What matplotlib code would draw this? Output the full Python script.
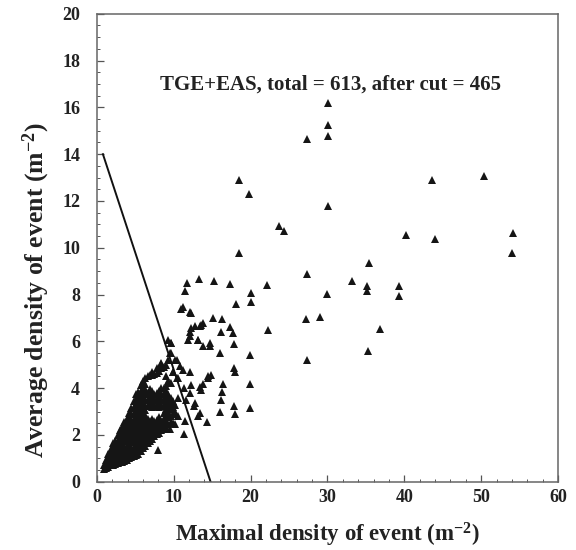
import matplotlib
matplotlib.use("Agg")
import matplotlib.pyplot as plt
from matplotlib.ticker import MultipleLocator

plt.rcParams['font.family'] = ['Liberation Serif', 'DejaVu Serif']
plt.rcParams['font.weight'] = 'bold'
plt.rcParams['mathtext.fontset'] = 'custom'
plt.rcParams['mathtext.rm'] = 'Liberation Serif:bold'
plt.rcParams['mathtext.it'] = 'Liberation Serif:bold'
plt.rcParams['mathtext.bf'] = 'Liberation Serif:bold'
plt.rcParams['mathtext.default'] = 'rm'

# Dense core of small events, column by column:
# maximal density of the column -> average densities of its events
core_x = [0.9, 1.2, 1.5, 1.8, 2.1, 2.4, 2.7, 3.0, 3.3, 3.6, 3.9, 4.2, 4.5, 4.8,
          5.1, 5.4, 5.7, 6.0, 6.3, 6.6, 6.9, 7.2, 7.5, 7.8, 8.1, 8.4, 8.7, 9.0,
          9.3, 9.6, 9.9, 10.2, 10.5]
core_y = [
    [0.55, 0.7],
    [0.6, 0.8, 0.95],
    [0.65, 0.85, 1.05, 1.2],
    [0.7, 0.9, 1.1, 1.3, 1.4],
    [0.7, 0.9, 1.1, 1.3, 1.5, 1.65],
    [0.75, 0.95, 1.15, 1.35, 1.55, 1.75],
    [0.8, 1.0, 1.2, 1.4, 1.6, 1.8, 2.0],
    [0.85, 1.05, 1.25, 1.45, 1.65, 1.85, 2.05, 2.2],
    [0.85, 1.1, 1.3, 1.5, 1.7, 1.9, 2.1, 2.35],
    [0.9, 1.1, 1.3, 1.5, 1.75, 1.95, 2.15, 2.4, 2.55],
    [0.95, 1.15, 1.35, 1.55, 1.8, 2.0, 2.2, 2.45, 2.7],
    [1.0, 1.2, 1.4, 1.6, 1.85, 2.05, 2.3, 2.55, 2.8, 2.95],
    [1.05, 1.25, 1.45, 1.7, 1.9, 2.15, 2.4, 2.65, 2.9, 3.15],
    [1.1, 1.3, 1.5, 1.75, 2.0, 2.2, 2.45, 2.7, 2.95, 3.2, 3.45],
    [1.15, 1.35, 1.6, 1.8, 2.05, 2.3, 2.5, 2.75, 3.0, 3.3, 3.55, 3.75],
    [1.2, 1.45, 1.65, 1.9, 2.1, 2.35, 2.6, 2.85, 3.1, 3.35, 3.6, 3.85],
    [1.3, 1.5, 1.75, 1.95, 2.2, 2.45, 2.7, 2.95, 3.2, 3.45, 3.7, 3.9, 4.15],
    [1.45, 1.65, 1.85, 2.05, 2.3, 2.55, 2.8, 3.05, 3.3, 3.55, 3.8, 4.0, 4.3],
    [1.55, 1.75, 1.95, 2.2, 2.4, 2.65, 2.85, 3.05, 3.25, 3.5, 3.75, 3.95, 4.2, 4.45],
    [1.65, 1.85, 2.05, 2.3, 2.5, 2.7, 3.3, 3.55, 3.8, 4.5],
    [1.75, 1.95, 2.15, 2.4, 2.6, 3.25, 3.5, 3.75, 3.95, 4.55],
    [1.85, 2.05, 2.25, 2.5, 2.7, 3.2, 3.45, 3.7, 3.9, 4.55, 4.7],
    [1.95, 2.15, 2.35, 2.6, 3.25, 3.5, 3.75, 4.6],
    [2.05, 2.25, 2.45, 2.65, 3.3, 3.55, 3.8, 4.65, 4.85],
    [2.1, 2.3, 2.55, 2.75, 3.2, 3.45, 3.7, 3.9, 4.75],
    [2.2, 2.4, 2.6, 3.25, 3.5, 3.75, 4.0, 4.85, 5.05],
    [2.25, 2.5, 2.7, 2.95, 3.3, 3.55, 3.8, 4.0, 4.9],
    [2.35, 2.6, 2.85, 3.1, 3.4, 3.65, 3.9, 4.1, 4.5, 5.0],
    [2.45, 2.75, 3.0, 3.25, 3.5, 3.75, 4.3, 5.2],
    [2.55, 2.8, 3.1, 3.35, 3.6, 4.22, 5.5, 5.93],
    [2.5, 2.9, 3.2, 3.45, 4.71],
    [2.45, 3.0, 3.3, 5.2],
    [2.8, 3.6, 4.43],
]

# Medium events around the cut line
mid_x = [13.3, 15.2, 11.7, 11.45, 17.3, 22.2, 20.0, 20.0, 18.1, 11.0,
         12.1, 15.1, 16.3, 13.6, 12.8, 17.3, 17.7, 16.2, 22.3, 12.1,
         11.9, 13.2, 13.8, 14.7, 17.8, 16.0, 19.9, 9.3, 17.8, 18.0,
         14.5, 13.8, 13.4, 16.4, 16.3, 16.1, 16.0, 19.9, 19.9, 17.8,
         18.0, 12.1, 12.8, 13.2, 14.3, 11.4, 9.5, 9.7, 9.5, 8.4,
         10.4, 10.8, 9.9, 11.2, 12.1, 10.4, 9.5, 11.4, 12.3, 13.6,
         14.5, 14.9, 11.66, 12.7, 13.4, 12.3, 13.4, 13.8, 12.1, 13.2,
         14.7, 11.2, 12.3, 8.0, 11.45]
mid_y = [8.65, 8.6, 8.5, 8.15, 8.45, 8.4, 8.05, 7.7, 7.6, 7.4,
         7.25, 7.0, 6.95, 6.7, 6.65, 6.6, 6.35, 6.4, 6.5, 6.4,
         6.05, 6.05, 5.8, 5.8, 5.9, 5.5, 5.4, 6.05, 4.85, 4.7,
         4.5, 4.2, 4.05, 4.2, 3.85, 3.5, 3.0, 4.2, 3.15, 3.25,
         2.9, 3.8, 3.35, 2.8, 2.55, 2.05, 2.25, 5.93, 5.5, 5.07,
         5.2, 4.93, 4.71, 4.79, 4.71, 4.43, 4.22, 4.0, 4.15, 3.93,
         4.43, 4.57, 3.5, 3.22, 2.93, 6.57, 6.64, 6.78, 6.21, 6.07,
         5.93, 7.49, 7.21, 1.35, 2.6]

# Large events
big_x = [30.1, 30.1, 30.1, 27.3, 18.56, 19.86, 30.05, 23.7, 24.4, 18.47,
         35.4, 27.4, 33.2, 35.2, 35.2, 39.3, 39.3, 29.95, 27.2, 29.05,
         36.8, 35.3, 27.4, 40.2, 43.95, 43.6, 50.3, 54.1, 54.05]
big_y = [16.18, 15.23, 14.76, 14.66, 12.88, 12.29, 11.79, 10.94, 10.7, 9.77,
         9.37, 8.88, 8.59, 8.38, 8.16, 8.35, 7.95, 8.02, 6.95, 7.04,
         6.54, 5.61, 5.21, 10.55, 10.38, 12.9, 13.08, 10.63, 9.77]

# Cut line (max density vs average density)
cut_x = [0.8, 14.8]
cut_y = [14.0, 0.0]

x_ticks = [0, 10, 20, 30, 40, 50, 60]
y_ticks = [0, 2, 4, 6, 8, 10, 12, 14, 16, 18, 20]

title_text = "TGE+EAS, total = 613, after cut = 465"

# expand the core columns into point lists
pts_x, pts_y = [], []
for cx, ys in zip(core_x, core_y):
    for cy in ys:
        pts_x.append(cx)
        pts_y.append(cy)
pts_x += mid_x + big_x
pts_y += mid_y + big_y

fig = plt.figure(figsize=(5.76, 5.5), dpi=100)
ax = fig.add_axes([0.168, 0.124, 0.801, 0.851])

ax.plot(pts_x, pts_y, linestyle='none', marker='^', markersize=6,
        color='#151515', markeredgewidth=0)
ax.plot(cut_x, cut_y, color='#111111', linewidth=1.4)

ax.text(30.4, 16.97, title_text, ha='center', va='center',
        fontsize=15, fontweight='bold', color='#222222')

ax.set_xlim(0, 60)
ax.set_ylim(0, 20)
ax.set_xticks(x_ticks)
ax.set_yticks(y_ticks)
ax.xaxis.set_minor_locator(MultipleLocator(2))
ax.yaxis.set_minor_locator(MultipleLocator(0.5))
ax.tick_params(which='both', direction='in', colors='#555555',
               labelcolor='#222222', labelsize=13)
ax.tick_params(which='major', length=5, width=0.9)
ax.tick_params(which='minor', length=2.5, width=0.7)
ax.tick_params(axis='x', pad=5)
ax.tick_params(axis='y', pad=12)
for lbl in ax.get_xticklabels() + ax.get_yticklabels():
    lbl.set_fontweight('bold')
for s in ax.spines.values():
    s.set_color('#666666')
    s.set_linewidth(1.1)

ax.set_xlabel(r"Maximal density of event (m$^{-2}$)", fontsize=16.5,
              fontweight='bold', color='#222222')
ax.set_ylabel(r"Average density of event (m$^{-2}$)", fontsize=18.5,
              fontweight='bold', color='#222222')
ax.xaxis.set_label_coords(0.5, -0.083)
ax.yaxis.set_label_coords(-0.097, 0.41)

fig.savefig("out.png", dpi=100)
